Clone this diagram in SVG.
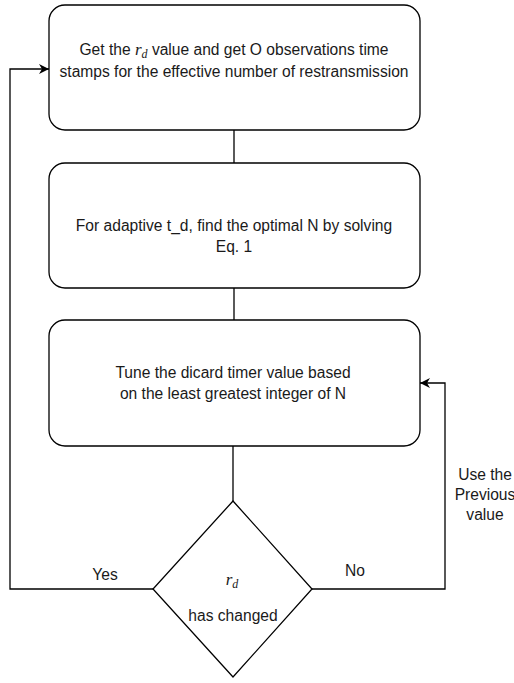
<svg xmlns="http://www.w3.org/2000/svg" width="514" height="683" viewBox="0 0 514 683">
<style>
.box{fill:#fff;stroke:#000;stroke-width:1.3}
.ln{fill:none;stroke:#000;stroke-width:1.3}
text{font-family:"Liberation Sans",Arial,sans-serif;font-size:15.6px;fill:#1a1a1a;text-anchor:middle}
.m{font-family:"Liberation Serif","DejaVu Serif",serif;font-style:italic;font-size:17px}
.s{font-size:12px}
</style>
<defs>
<marker id="ah" viewBox="0 0 10 10" refX="10" refY="5" markerWidth="10" markerHeight="10" markerUnits="userSpaceOnUse" orient="auto">
<path d="M0,0 L10,5 L0,10 L3,5 Z" fill="#000"/>
</marker>
</defs>
<g id="connectors">
<path class="ln" d="M234,130 V163"/>
<path class="ln" d="M234,288 V320"/>
<path class="ln" d="M233,446 V501"/>
<path class="ln" d="M153,589 H10 V69 H49" marker-end="url(#ah)"/>
<path class="ln" d="M312,589 H445 V383 H420" marker-end="url(#ah)"/>
<text x="105" y="580">Yes</text>
<text x="355" y="576">No</text>
<text x="485" y="480">Use the</text>
<text x="485" y="500">Previous</text>
<text x="485" y="520">value</text>
</g>
<g id="n1">
<rect class="box" x="49" y="5" width="371" height="125" rx="16"/>
<text x="234" y="55">Get the <tspan class="m">r</tspan><tspan class="m s" dy="3">d</tspan><tspan dy="-3"> value and get O observations time</tspan></text>
<text x="234" y="77">stamps for the effective number of restransmission</text>
</g>
<g id="n2">
<rect class="box" x="49" y="163" width="371" height="125" rx="16"/>
<text x="234" y="231">For adaptive t_d, find the optimal N by solving</text>
<text x="234" y="252">Eq. 1</text>
</g>
<g id="n3">
<rect class="box" x="49" y="320" width="371" height="126" rx="16"/>
<text x="233" y="378">Tune the dicard timer value based</text>
<text x="233" y="399">on the least greatest integer of N</text>
</g>
<g id="n4">
<path class="box" d="M233,501 L312,589 L233,677 L153,589 Z"/>
<text x="232" y="585"><tspan class="m">r</tspan><tspan class="m s" dy="3">d</tspan></text>
<text x="233" y="621">has changed</text>
</g>
</svg>
